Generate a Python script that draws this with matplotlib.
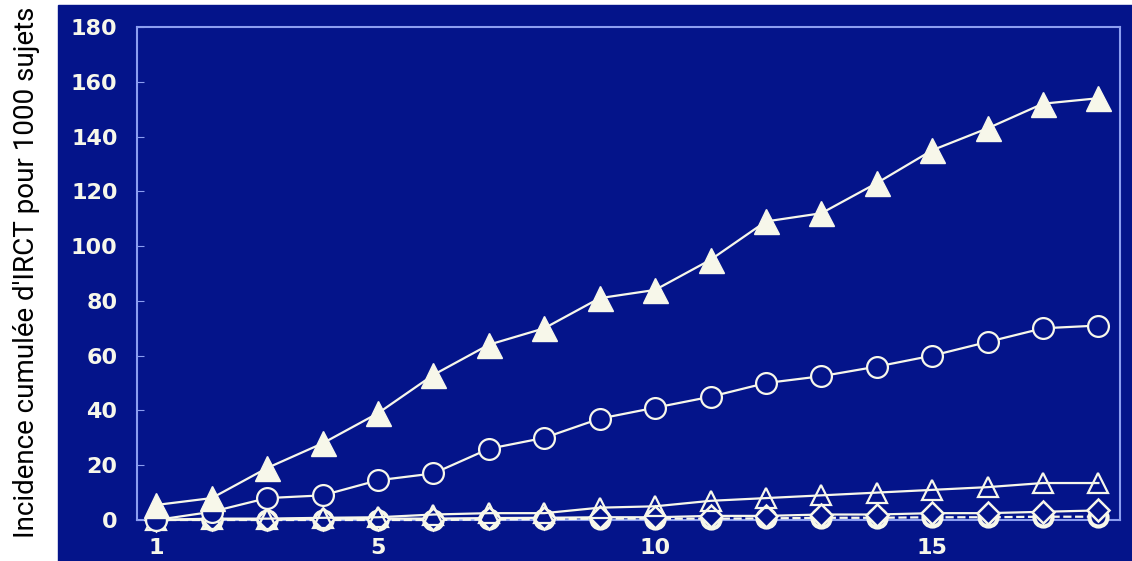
import matplotlib.pyplot as plt
from matplotlib.patches import Rectangle

annees = list(range(1, 19))
tri_plein = [5.5, 8, 19, 28, 39, 53, 64, 70, 81, 84, 95, 109, 112, 123, 135, 143, 152, 154]
cercle = [0, 3, 8, 9, 14.5, 17, 26, 30, 37, 41, 45, 50, 52.5, 56, 60, 65, 70, 71]
tri_vide = [0, 0.5, 0.5, 0.8, 1, 2, 2.5, 2.5, 4.5, 5, 7, 8, 9, 10, 11, 12, 13.5, 13.5]
losange = [0, 0.3, 0.3, 0.5, 0.5, 0.5, 0.7, 0.8, 1, 1, 1.5, 1.5, 2, 2, 2.5, 2.5, 3, 3.5]
cercle_bas = [0, 0, 0, 0, 0, 0, 0.2, 0.3, 0.5, 0.5, 0.5, 0.6, 0.8, 0.8, 1, 1, 1.2, 1.2]

navy = '#04148a'
blanc = '#f7f7ea'
bord = '#8c9ef0'

fig = plt.figure(figsize=(11.32, 5.61), dpi=100)
fig.patch.set_facecolor('white')
fig.patches.append(Rectangle((58/1132, 0), 1 - 58/1132, 1 - 5/561,
                             transform=fig.transFigure, color=navy, zorder=-10))

ax = fig.add_axes([137/1132, 1 - 520/561, (1120 - 137)/1132, (520 - 27)/561])
ax.set_facecolor(navy)

kw = dict(color=blanc, lw=1.6, clip_on=False, zorder=3)
ax.plot(annees, cercle_bas, marker='o', ms=13, mfc=navy, mec=blanc, mew=3, ls='--', **kw)
ax.plot(annees, losange, marker='D', ms=11, mfc=navy, mec=blanc, mew=1.8, **kw)
ax.plot(annees, tri_vide, marker='^', ms=15, mfc='none', mec=blanc, mew=1.6, **kw)
ax.plot(annees, cercle, marker='o', ms=15, mfc=navy, mec=blanc, mew=1.6, **kw)
ax.plot(annees, tri_plein, marker='^', ms=18, mfc=blanc, mec=blanc, **kw)

ax.set_xlim(0.65, 18.39)
ax.set_ylim(0, 180)
ax.set_xticks([1, 5, 10, 15])
ax.set_yticks(range(0, 181, 20))
for s in ax.spines.values():
    s.set_color(bord)
    s.set_linewidth(1.5)
ax.tick_params(axis='y', direction='in', length=5, color=bord, pad=14,
               labelsize=16, labelcolor=blanc)
ax.tick_params(axis='x', length=0, pad=13, labelsize=16, labelcolor=blanc)
for t in ax.get_xticklabels() + ax.get_yticklabels():
    t.set_fontweight('bold')

fig.text(27/1132, 1 - 272/561, "Incidence cumulée d'IRCT pour 1000 sujets",
         rotation=90, ha='center', va='center', fontsize=20,
         family='Roboto', fontstretch='condensed', color='black')

fig.savefig('out.png', dpi=100, facecolor=fig.get_facecolor())
